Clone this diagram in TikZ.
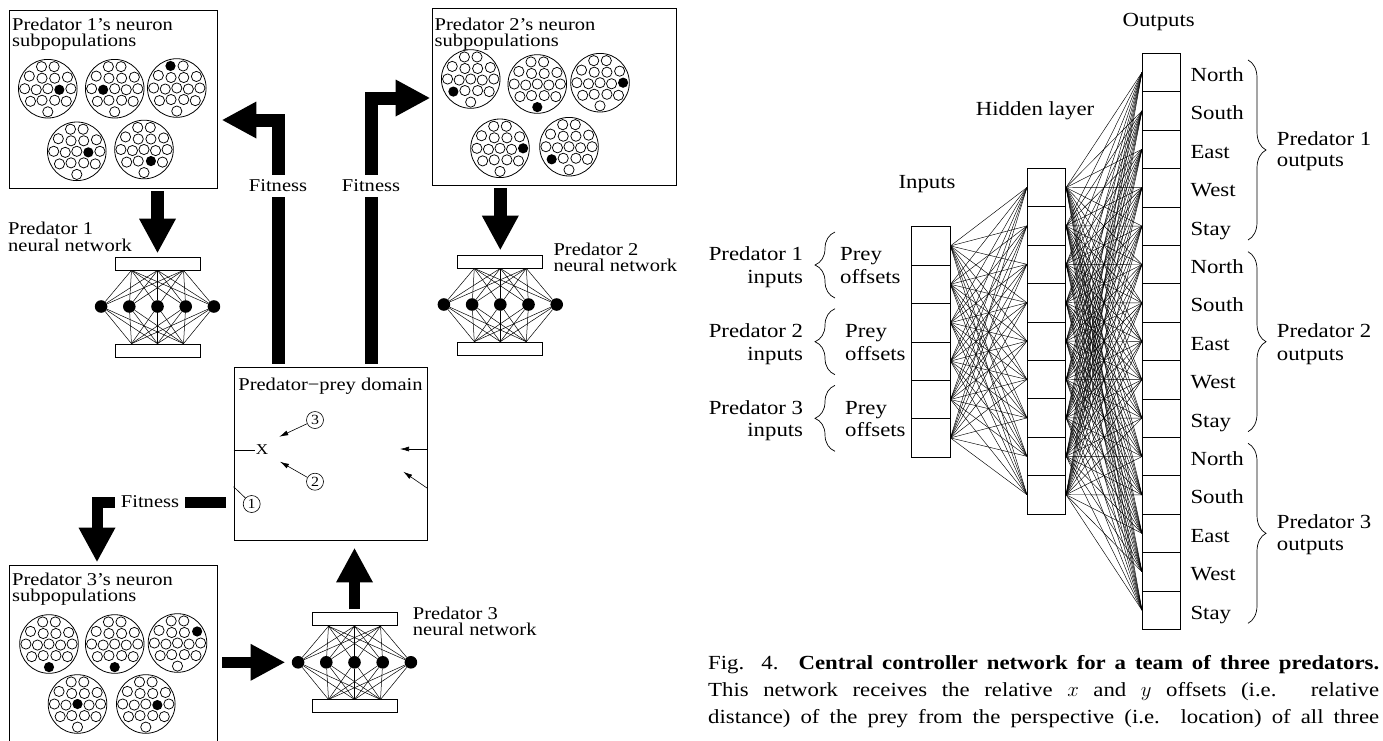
\documentclass[tikz,border=0pt]{standalone}
\usepackage{fontspec}
\setmainfont{Liberation Serif}[FakeStretch=1.14]
\usetikzlibrary{arrows.meta,calc,decorations.pathreplacing}

\newcommand\subpop[4]{%
  \node[bigc] (#1) at (#2,#3) {};
  \foreach \dx/\dy [count=\i] in {-6/-21,6/-21,-17.6/-12,-5.5/-10,6.6/-10,18.7/-11,-22/0,-11/1,0/0,11/1,22/0,-16.5/12,-5.5/11,6.6/11,17.6/12,0/22}{%
    \ifnum\i=#4\relax
      \fill ($(#1)+(1.05*\dx,1.05*\dy)$) circle[radius=5.1pt];
    \else
      \draw[line width=0.75pt] ($(#1)+(1.05*\dx,1.05*\dy)$) circle[radius=5.1pt];
    \fi
  }%
}

\newcommand\nnet[3]{%
  \node[bar] (#1t) at (#2,#3) {};
  \node[bar] (#1b) at (#2,#3+87) {};
  \foreach \k in {1,...,5} \node[neuron] (#1n\k) at ({#2+28.2*(\k-3)},{#3+43}) {};
  \coordinate (#1ta) at ($(#1t.south)+(-26,0)$);
  \coordinate (#1tb) at (#1t.south);
  \coordinate (#1tc) at ($(#1t.south)+(26,0)$);
  \coordinate (#1ba) at ($(#1b.north)+(-26,0)$);
  \coordinate (#1bb) at (#1b.north);
  \coordinate (#1bc) at ($(#1b.north)+(26,0)$);
  \foreach \k in {1,...,5} \foreach \p in {ta,tb,tc,ba,bb,bc} \draw[wire] (#1n\k) -- (#1\p);
}

\begin{document}
\begin{tikzpicture}[x=1pt,y=-1pt,
  box/.style={draw, line width=0.8pt, inner sep=0pt},
  bigc/.style={circle, draw, line width=0.8pt, minimum size=58.6pt, inner sep=0pt},
  bar/.style={draw, line width=0.7pt, fill=white, minimum width=85pt, minimum height=13pt, inner sep=0pt},
  neuron/.style={circle, fill=black, minimum size=12.6pt, inner sep=0pt},
  wire/.style={line width=0.5pt},
  bigarrow/.style={line width=13pt, -{Triangle[width=37pt,length=34pt,line width=0pt]}},
  lbl/.style={font=\fontsize{18}{18}\selectfont, inner sep=0pt},
  rlbl/.style={font=\fontsize{20}{22}\selectfont, inner sep=0pt},
  caplbl/.style={font=\fontsize{20}{24}\selectfont, inner sep=0pt},
  fitlbl/.style={font=\fontsize{18}{18}\selectfont, fill=white, inner xsep=6pt, inner ysep=5pt},
  numc/.style={circle, draw, line width=0.6pt, minimum size=17pt, inner sep=0pt, font=\fontsize{14}{14}\selectfont},
  smallarrow/.style={line width=0.6pt, -{Latex[length=9pt,width=5pt]}},
  cell/.style={draw, line width=0.7pt, minimum width=38.4pt, minimum height=38.4pt, inner sep=0pt},
  conn/.style={line width=0.45pt},
  brc/.style={line width=0.7pt, decorate, decoration={brace, amplitude=#1}},
]
\useasboundingbox (0,0) rectangle (1383,740);

% ---------- Predator 1 population ----------
\node[box, minimum width=208pt, minimum height=178pt] (p1box) at (113,99) {};
\node[lbl, anchor=base west] (p1l1) at (12,30) {Predator 1’s neuron};
\node[lbl, anchor=base west] (p1l2) at (12,46.7) {subpopulations};
\subpop{p1a}{47.8}{88.7}{10}
\subpop{p1b}{114.7}{88.7}{8}
\subpop{p1c}{176.8}{88}{1}
\subpop{p1d}{76.8}{151.3}{10}
\subpop{p1e}{144}{149.5}{14}

% ---------- Predator 2 population ----------
\node[box, minimum width=244pt, minimum height=177pt] (p2box) at (554,96.5) {};
\node[lbl, anchor=base west] (p2l1) at (434.5,30.7) {Predator 2’s neuron};
\node[lbl, anchor=base west] (p2l2) at (434.5,46.7) {subpopulations};
\subpop{p2a}{470.7}{79}{12}
\subpop{p2b}{537.3}{84}{16}
\subpop{p2c}{600}{82.7}{11}
\subpop{p2d}{500}{148.3}{11}
\subpop{p2e}{569}{146.7}{12}

% ---------- Predator 3 population ----------
\node[box, minimum width=208pt, minimum height=177pt] (p3box) at (113,653.5) {};
\node[lbl, anchor=base west] (p3l1) at (12,585) {Predator 3’s neuron};
\node[lbl, anchor=base west] (p3l2) at (12,601.7) {subpopulations};
\subpop{p3a}{49}{644}{16}
\subpop{p3b}{114.7}{644}{16}
\subpop{p3c}{177.5}{643}{6}
\subpop{p3d}{77.5}{704}{9}
\subpop{p3e}{145.8}{704}{10}

% ---------- neural networks ----------
\nnet{na}{157.5}{263.5}
\nnet{nb}{500.3}{261.5}
\nnet{nc}{354.5}{619.3}
\node[lbl, anchor=base west] (nal1) at (8,234) {Predator 1};
\node[lbl, anchor=base west] (nal2) at (8,251) {neural network};
\node[lbl, anchor=base west] (nbl1) at (553.3,255) {Predator 2};
\node[lbl, anchor=base west] (nbl2) at (553.3,271.7) {neural network};
\node[lbl, anchor=base west] (ncl1) at (412.7,619) {Predator 3};
\node[lbl, anchor=base west] (ncl2) at (412.7,635) {neural network};

% ---------- domain ----------
\node[box, minimum width=193pt, minimum height=173pt] (dom) at (330.5,453.5) {};
\node[lbl, anchor=base] (domt) at (330.5,390) {Predator−prey domain};
\node[font=\fontsize{15}{15}\selectfont, inner sep=1pt] (xm) at (262,450) {X};
\draw[line width=0.6pt] (dom.west |- xm) -- (xm.west);
\node[numc] (k3) at (315,420) {3};
\node[numc] (k2) at (315,481.7) {2};
\node[numc] (k1) at (251.7,504) {1};
\coordinate (t3) at (279.3,436.7);
\coordinate (t2) at (280,461.7);
\coordinate (s1) at (234,486.7);
\coordinate (t4) at (400,449);
\coordinate (s5) at (427,488.3);
\coordinate (t5) at (403.3,471.7);
\draw[smallarrow] (k3) -- (t3);
\draw[smallarrow] (k2) -- (t2);
\draw[line width=0.6pt] (dom.west |- s1) -- (k1);
\draw[smallarrow] (dom.east |- t4) -- (t4);
\draw[smallarrow] (dom.east |- s5) -- (t5);

% ---------- big arrows ----------
\coordinate (fl) at (278,120);
\coordinate (fr) at (371,98);
\coordinate (fb) at (97,502.5);
\draw[bigarrow, shorten <=3pt, shorten >=4pt] (p1box.south -| nat) -- (nat.north);
\draw[bigarrow, shorten <=3pt, shorten >=5pt] (p2box.south -| nbt) -- (nbt.north);
\draw[bigarrow, shorten <=3pt, shorten >=5pt] (dom.north -| fl) -- (fl) -- (p1box.east |- fl);
\draw[bigarrow, shorten <=3pt, shorten >=2pt] (dom.north -| fr) -- (fr) -- (p2box.west |- fr);
\draw[bigarrow, line width=11pt, shorten <=8pt, shorten >=3pt] (dom.west |- fb) -- (fb) -- (p3box.north -| fb);
\draw[bigarrow, line width=11pt, shorten <=5pt, shorten >=7pt] (p3box.east |- ncn1) -- (ncn1.west);
\draw[bigarrow, line width=11pt, shorten <=3pt, shorten >=8pt] (nct.north) -- (dom.south -| nct);
\node[fitlbl] (fit1) at (278,186) {Fitness};
\node[fitlbl] (fit2) at (371,186) {Fitness};
\node[fitlbl] (fit3) at (150,502) {Fitness};

% ---------- central controller network ----------
\foreach \k in {1,...,6} \node[cell] (i\k) at (930.9,{245.9+38.4*(\k-1)}) {};
\foreach \k in {1,...,9} \node[cell] (h\k) at (1046.5,{187.5+38.4*(\k-1)}) {};
\foreach \k in {1,...,15} \node[cell] (o\k) at (1161.5,{72.5+38.4*(\k-1)}) {};
\foreach \a in {1,...,6} \foreach \b in {1,...,9} \draw[conn] (i\a.east) -- (h\b.west);
\foreach \a in {1,...,9} \foreach \b in {1,...,15} \draw[conn] (h\a.east) -- (o\b.west);

\node[rlbl, anchor=base west] (inl) at (898.3,188.3) {Inputs};
\node[rlbl, anchor=base] (hidl) at (1035,115) {Hidden layer};
\node[rlbl, anchor=base east] (outl) at (1195,26) {Outputs};

\foreach \k/\t in {1/North,2/South,3/East,4/West,5/Stay,6/North,7/South,8/East,9/West,10/Stay,11/North,12/South,13/East,14/West,15/Stay}
  \node[rlbl, anchor=base west] (ol\k) at ($(o\k.east)+(9.3,9)$) {\t};

\coordinate (ob1t) at (1248,60);    \coordinate (ob1b) at (1248,240);
\coordinate (ob2t) at (1248,251.7); \coordinate (ob2b) at (1248,431.7);
\coordinate (ob3t) at (1248,443.3); \coordinate (ob3b) at (1248,623.3);
\draw[brc=18pt] (ob1t) -- (ob1b);
\draw[brc=18pt] (ob2t) -- (ob2b);
\draw[brc=18pt] (ob3t) -- (ob3b);
\node[rlbl, anchor=base west] (po1a) at (1276.7,145) {Predator 1};
\node[rlbl, anchor=base west] (po1b) at (1276.7,166.7) {outputs};
\node[rlbl, anchor=base west] (po2a) at (1276.7,337.7) {Predator 2};
\node[rlbl, anchor=base west] (po2b) at (1276.7,360) {outputs};
\node[rlbl, anchor=base west] (po3a) at (1276.7,528.3) {Predator 3};
\node[rlbl, anchor=base west] (po3b) at (1276.7,550.7) {outputs};

\coordinate (ib1t) at (835,232);   \coordinate (ib1b) at (835,298);
\coordinate (ib2t) at (835,308.7); \coordinate (ib2b) at (835,374.7);
\coordinate (ib3t) at (835,385.3); \coordinate (ib3b) at (835,451.3);
\draw[brc=20pt] (ib1b) -- (ib1t);
\draw[brc=20pt] (ib2b) -- (ib2t);
\draw[brc=20pt] (ib3b) -- (ib3t);
\node[rlbl, anchor=base east] (pi1a) at (803.3,260.7) {Predator 1};
\node[rlbl, anchor=base east] (pi1b) at (803.3,283.3) {inputs};
\node[rlbl, anchor=base east] (pi2a) at (803.3,337.3) {Predator 2};
\node[rlbl, anchor=base east] (pi2b) at (803.3,360) {inputs};
\node[rlbl, anchor=base east] (pi3a) at (803.3,414) {Predator 3};
\node[rlbl, anchor=base east] (pi3b) at (803.3,436.7) {inputs};
\node[rlbl, anchor=base west] (pr1a) at (840,260.7) {Prey};
\node[rlbl, anchor=base west] (pr1b) at (840,283.3) {offsets};
\node[rlbl, anchor=base west] (pr2a) at (845,337.3) {Prey};
\node[rlbl, anchor=base west] (pr2b) at (845,360) {offsets};
\node[rlbl, anchor=base west] (pr3a) at (845,414) {Prey};
\node[rlbl, anchor=base west] (pr3b) at (845,436.7) {offsets};

% ---------- caption ----------
\node[caplbl, anchor=base west] (cap1) at (708,669) {\makebox[671pt][s]{Fig. 4.\quad \textbf{Central controller network for a team of three predators.}}};
\node[caplbl, anchor=base west] (cap2) at (708,696) {\makebox[671pt][s]{This network receives the relative $x$ and $y$ offsets (i.e. relative}};
\node[caplbl, anchor=base west] (cap3) at (708,723) {\makebox[671pt][s]{distance) of the prey from the perspective (i.e. location) of all three}};
\end{tikzpicture}
\end{document}
